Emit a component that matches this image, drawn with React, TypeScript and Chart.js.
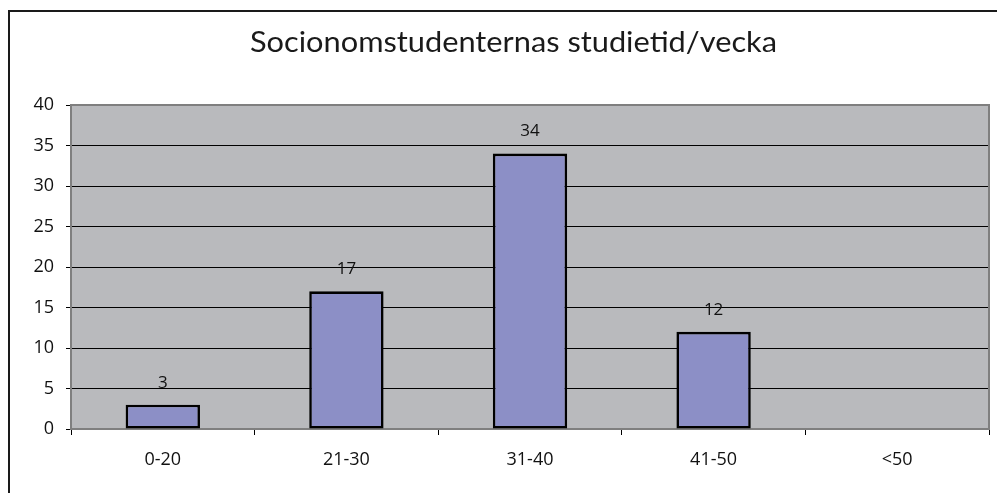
import React, { useEffect, useRef } from "react";
import { Chart, registerables } from "chart.js";

Chart.register(...registerables);

const titleText = "Socionomstudenternas studietid/vecka";
const categories = ["0-20", "21-30", "31-40", "41-50", "<50"];
const values = [3, 17, 34, 12, null];
const yTicks = [0, 5, 10, 15, 20, 25, 30, 35, 40];

const FONT = "'Open Sans', 'DejaVu Sans', sans-serif";

export default function App() {
  const ref = useRef<HTMLCanvasElement | null>(null);

  useEffect(() => {
    if (!ref.current) return;
    const bgPlugin = {
      id: "bgPlugin",
      beforeDraw(chart: any) {
        const { ctx, chartArea } = chart;
        ctx.save();
        ctx.fillStyle = "#b9babd";
        ctx.fillRect(chartArea.left, chartArea.top, chartArea.right - chartArea.left, chartArea.bottom - chartArea.top);
        ctx.restore();
        // title
        ctx.save();
        ctx.fillStyle = "#1a1a1a";
        ctx.font = `400 28px Lato, 'Open Sans', sans-serif`;
        ctx.textAlign = "center";
        ctx.textBaseline = "alphabetic";
        const w = ctx.measureText(titleText).width;
        ctx.translate(513.5, 52);
        ctx.scale(527 / w, 1);
        ctx.fillText(titleText, 0, 0);
        ctx.restore();
      },
      beforeDatasetsDraw(chart: any) {
        const { ctx, chartArea } = chart;
        ctx.save();
        ctx.strokeStyle = "#7f7f7f";
        ctx.lineWidth = 2;
        ctx.strokeRect(chartArea.left, chartArea.top, chartArea.right - chartArea.left, chartArea.bottom - chartArea.top);
        ctx.restore();
      },
      afterDatasetsDraw(chart: any) {
        const { ctx } = chart;
        const meta = chart.getDatasetMeta(0);
        ctx.save();
        ctx.fillStyle = "#111";
        ctx.font = `17px ${FONT}`;
        ctx.textAlign = "center";
        ctx.textBaseline = "middle";
        meta.data.forEach((el: any, i: number) => {
          const v = values[i];
          if (v == null) return;
          ctx.fillText(String(v), el.x, el.y - 22);
        });
        ctx.restore();
      },
    };

    const chart = new Chart(ref.current, {
      type: "bar",
      data: {
        labels: categories,
        datasets: [
          {
            data: values as any,
            backgroundColor: "#8c8fc6",
            borderColor: "#000",
            borderWidth: 2.6,
            borderSkipped: false,
            categoryPercentage: 1,
            barPercentage: 0.405,
          },
        ],
      },
      options: {
        responsive: false,
        animation: false,
        layout: { padding: { top: 105, left: 0, right: 8, bottom: 0 } },
        plugins: {
          legend: { display: false },
          tooltip: { enabled: false },
          title: { display: false },
        },
        scales: {
          x: {
            grid: { drawOnChartArea: false, tickLength: 6, color: "#000", offset: true },
            border: { display: false },
            ticks: { color: "#111", font: { size: 18, family: FONT }, padding: 14, maxRotation: 0 },
            afterFit(scale: any) {
              scale.height = 64;
            },
          },
          y: {
            min: 0,
            max: 40,
            afterBuildTicks(scale: any) {
              scale.ticks = yTicks.map((v) => ({ value: v }));
            },
            grid: { color: "#000", tickLength: 5, lineWidth: 1 },
            border: { display: false },
            ticks: { color: "#111", font: { size: 18, family: FONT }, padding: 12 },
            afterFit(scale: any) {
              scale.width = 71;
            },
          },
        },
      },
      plugins: [bgPlugin],
    });
    return () => chart.destroy();
  }, []);

  return (
    <div style={{ position: "absolute", left: 0, top: 0, width: 997, height: 493, background: "#fff" }}>
      <div
        style={{
          position: "absolute",
          left: 8,
          top: 10,
          width: 989,
          height: 483,
          borderLeft: "2px solid #1a1a1a",
          borderTop: "2px solid #1a1a1a",
          boxSizing: "border-box",
        }}
      />
      <canvas ref={ref} width={997} height={493} style={{ position: "absolute", left: 0, top: 0, display: "block" }} />
    </div>
  );
}
